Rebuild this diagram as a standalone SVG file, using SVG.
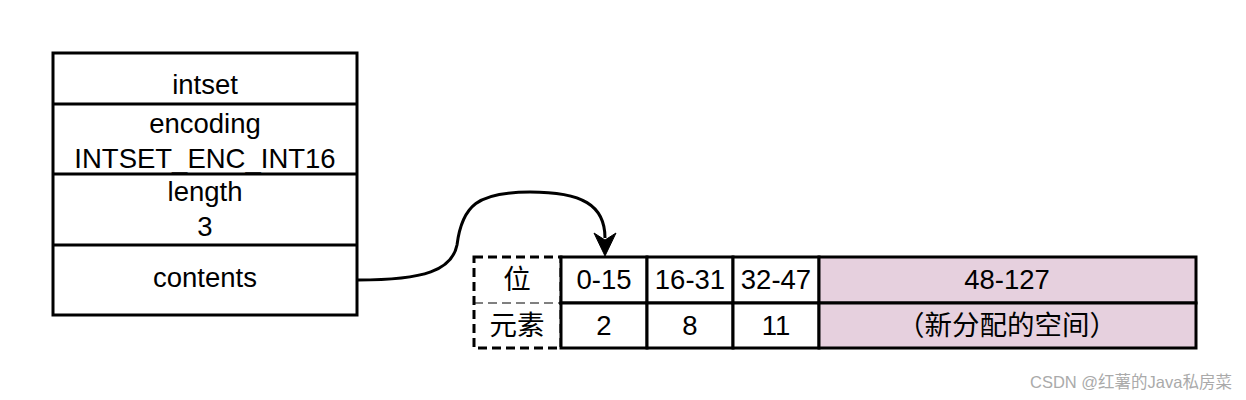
<svg xmlns="http://www.w3.org/2000/svg" width="1246" height="400" viewBox="0 0 1246 400">
<style>
.t{font-family:"Liberation Sans",Arial,"Noto Sans CJK SC",sans-serif;font-size:27.5px;fill:#000;text-anchor:middle}
.box{fill:#fff;stroke:#000;stroke-width:3}
.pur{fill:#e6d0de;stroke:#000;stroke-width:3}
.line{stroke:#000;stroke-width:3;fill:none}
.dash{fill:none;stroke:#000;stroke-width:3;stroke-dasharray:9 5}
.wm{font-family:"Liberation Sans",Arial,"Noto Sans CJK SC",sans-serif;font-size:16.5px;fill:#aaaaaa}
</style>
<g id="intset">
<rect class="box" x="53" y="53" width="304" height="262"/>
<line class="line" x1="53" y1="104" x2="357" y2="104"/>
<line class="line" x1="53" y1="174" x2="357" y2="174"/>
<line class="line" x1="53" y1="245" x2="357" y2="245"/>
<text class="t" x="205" y="94">intset</text>
<text class="t" x="205" y="133">encoding</text>
<text class="t" x="205" y="168">INTSET_ENC_INT16</text>
<text class="t" x="205" y="201">length</text>
<text class="t" x="205" y="236">3</text>
<text class="t" x="205" y="287">contents</text>
</g>
<g id="labels">
<rect class="dash" x="474" y="257" width="87" height="91"/>
<line x1="474" y1="303" x2="561" y2="303" stroke="#000" stroke-width="1" stroke-dasharray="9 5"/>
<text class="t" x="517" y="289">位</text>
<text class="t" x="517" y="335">元素</text>
</g>
<g id="cell0">
<rect class="box" x="561" y="257" width="86" height="46"/>
<rect class="box" x="561" y="303" width="86" height="45"/>
<text class="t" x="604" y="289">0-15</text>
<text class="t" x="604" y="335">2</text>
</g>
<g id="cell1">
<rect class="box" x="647" y="257" width="86" height="46"/>
<rect class="box" x="647" y="303" width="86" height="45"/>
<text class="t" x="690" y="289">16-31</text>
<text class="t" x="690" y="335">8</text>
</g>
<g id="cell2">
<rect class="box" x="733" y="257" width="86" height="46"/>
<rect class="box" x="733" y="303" width="86" height="45"/>
<text class="t" x="776" y="289">32-47</text>
<text class="t" x="776" y="335">11</text>
</g>
<g id="cell3">
<rect class="pur" x="819" y="257" width="377" height="46"/>
<rect class="pur" x="819" y="303" width="377" height="45"/>
<text class="t" x="1007" y="289">48-127</text>
<text class="t" x="1007" y="335">（新分配的空间）</text>
</g>
<g id="connectors">
<path class="line" d="M358,280 C425,280 452,270 457,245 C462,205 478,192 530,192 C582,192 605,205 605,238"/>
<path d="M605,256 L594,233 L605,240 L616,233 Z" fill="#000" stroke="#000" stroke-width="1" stroke-linejoin="miter"/>
</g>
<text class="wm" x="1030" y="388">CSDN @红薯的Java私房菜</text>
</svg>
